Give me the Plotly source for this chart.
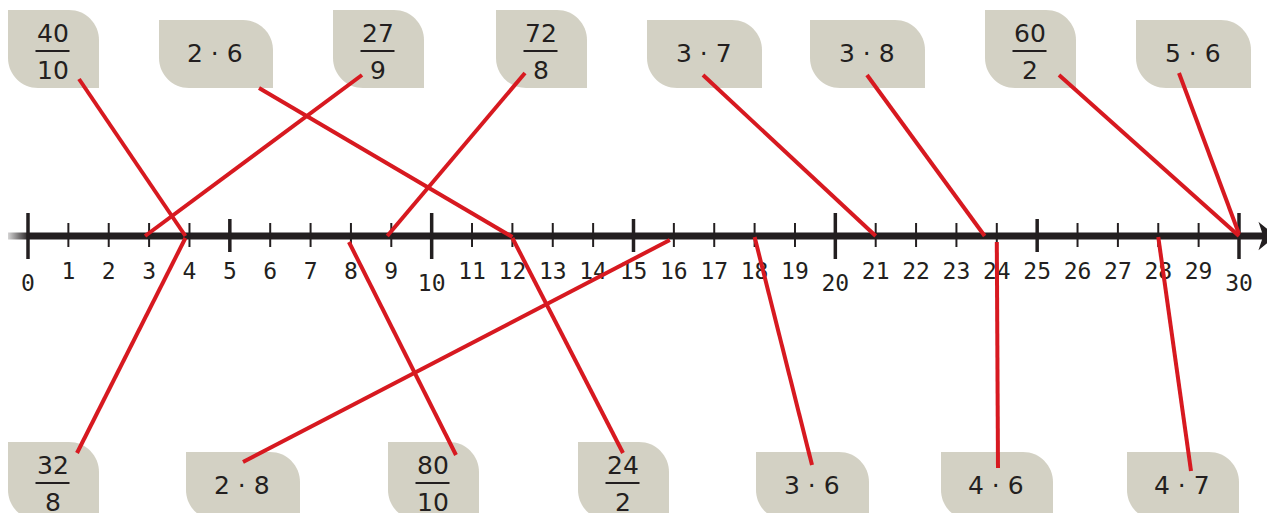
import plotly.graph_objects as go

# number line values
axis_values = list(range(0, 31))

# expressions in the boxes and where each red line meets the number line
top_labels = ["40/10", "2 · 6", "27/9", "72/8", "3 · 7", "3 · 8", "60/2", "5 · 6"]
top_hits = [3.9, 12, 2.9, 8.9, 21, 23.7, 30, 30]

bottom_labels = ["32/8", "2 · 8", "80/10", "24/2", "3 · 6", "4 · 6", "4 · 7"]
bottom_hits = [3.9, 15.9, 7.95, 12, 18, 24, 28]

# layout (pixels): box left / width, line start inside the box, line end y
top_box_left = [8, 159, 333, 496, 647, 810, 985, 1136]
top_box_width = [91, 114, 91, 91, 115, 115, 91, 115]
top_line_start = [(79, 79), (259, 88), (362, 75), (525, 73), (703, 75), (867, 75), (1059, 75), (1179, 73)]
top_line_end_y = [236, 237, 236, 236, 236, 236, 236, 234]

bottom_box_left = [8, 186, 388, 578, 756, 941, 1127]
bottom_box_width = [91, 114, 91, 91, 113, 112, 112]
bottom_line_start = [(77, 453), (243, 462), (456, 455), (623, 453), (812, 465), (998, 468), (1191, 471)]
bottom_line_end_y = [238, 240, 242, 238, 237, 242, 237]

W, H = 1275, 513
PAGE = 8  # body margin of the html page
X0, UNIT = 28, 1211 / 30
LINE_Y = 236
DARK = "#231f20"
RED = "#d71920"
BOX = "#d3d1c4"


def px(p):
    return (p - X0) / UNIT


def leaf_path(left, top, w, h, r=30):
    k = 0.5523 * r
    L, R, T, B = left, left + w, top, top + h
    pts = [
        f"M {px(L)},{T}",
        f"L {px(R - r)},{T}",
        f"C {px(R - r + k)},{T} {px(R)},{T + r - k} {px(R)},{T + r}",
        f"L {px(R)},{B}",
        f"L {px(L + r)},{B}",
        f"C {px(L + r - k)},{B} {px(L)},{B - r + k} {px(L)},{B - r}",
        "Z",
    ]
    return " ".join(pts)


fig = go.Figure()
shapes = []
annotations = []
font_box = dict(family="DejaVu Sans", size=25, color=DARK)


def add_box(label, left, top_frac, top_prod, w):
    cx = left + w / 2 - 1
    if "/" in label:
        num, den = label.split("/")
        top = top_frac
        shapes.append(dict(type="path", path=leaf_path(left, top, w, 78), fillcolor=BOX,
                           line=dict(width=0), layer="below"))
        annotations.append(dict(x=px(cx), y=top + 23, text=num, showarrow=False, font=font_box,
                                xanchor="center", yanchor="middle"))
        annotations.append(dict(x=px(cx), y=top + 60, text=den, showarrow=False, font=font_box,
                                xanchor="center", yanchor="middle"))
        shapes.append(dict(type="line", x0=px(cx - 17), x1=px(cx + 17), y0=top + 41, y1=top + 41,
                           line=dict(color=DARK, width=2), layer="below"))
    else:
        top = top_prod
        shapes.append(dict(type="path", path=leaf_path(left, top, w, 68), fillcolor=BOX,
                           line=dict(width=0), layer="below"))
        annotations.append(dict(x=px(cx), y=top + 33, text=label, showarrow=False, font=font_box,
                                xanchor="center", yanchor="middle"))


for lab, left, w in zip(top_labels, top_box_left, top_box_width):
    add_box(lab, left, 10, 20, w)
for lab, left, w in zip(bottom_labels, bottom_box_left, bottom_box_width):
    add_box(lab, left, 442, 452, w)

# left fade of the number line
fig.add_trace(go.Scatter(
    x=[px(0), px(29), px(29), px(0), px(0)],
    y=[LINE_Y - 3.5, LINE_Y - 3.5, LINE_Y + 3.5, LINE_Y + 3.5, LINE_Y - 3.5],
    mode="none", fill="toself",
    fillgradient=dict(type="horizontal", colorscale=[[0, "rgba(255,255,255,0)"], [0.15, "#f4f4f4"], [1, DARK]]),
    hoverinfo="skip", showlegend=False,
))

# shaft
fig.add_trace(go.Scatter(x=[px(28), px(1264)], y=[LINE_Y, LINE_Y], mode="lines",
                         line=dict(color=DARK, width=7), hoverinfo="skip", showlegend=False))

# arrow head
shapes.append(dict(type="path",
                   path=f"M {px(1260)},{224} L {px(1275)},{LINE_Y} L {px(1260)},{248} "
                        f"L {px(1264)},{LINE_Y} Z",
                   fillcolor=DARK, line=dict(color=DARK, width=1.5)))

# ticks
for widths, vals, half_top, half_bot in [
    (2, [v for v in axis_values if v % 5], 13, 11),
    (3.5, [v for v in axis_values if v % 5 == 0 and v % 10], 17, 16),
    (3.5, [v for v in axis_values if v % 10 == 0], 23, 23),
]:
    tx, ty = [], []
    for v in vals:
        tx += [v, v, None]
        ty += [LINE_Y - half_top, LINE_Y + half_bot, None]
    fig.add_trace(go.Scatter(x=tx, y=ty, mode="lines", line=dict(color=DARK, width=widths),
                             hoverinfo="skip", showlegend=False))

# tick labels
fig.add_trace(go.Scatter(
    x=axis_values,
    y=[LINE_Y + (49 if v % 10 == 0 else 37) for v in axis_values],
    text=[str(v) for v in axis_values],
    mode="text",
    textfont=dict(family="DejaVu Sans Mono", size=23, color=DARK),
    hoverinfo="skip", showlegend=False,
))

# red connecting lines
for (sx, sy), hit, ey in list(zip(top_line_start, top_hits, top_line_end_y)) + \
        list(zip(bottom_line_start, bottom_hits, bottom_line_end_y)):
    fig.add_trace(go.Scatter(x=[px(sx), hit], y=[sy, ey], mode="lines",
                             line=dict(color=RED, width=4), hoverinfo="skip", showlegend=False))

# the page puts the figure 8px in from the top-left corner, so the figure is
# sized and ranged to cover page pixels 8..1275 / 8..513
fig.update_layout(
    width=W - PAGE, height=H - PAGE,
    margin=dict(l=0, r=0, t=0, b=0),
    paper_bgcolor="white",
    plot_bgcolor="rgba(0,0,0,0)",
    xaxis=dict(range=[px(PAGE), px(W)], visible=False, fixedrange=True),
    yaxis=dict(range=[H, PAGE], visible=False, fixedrange=True),
    shapes=shapes,
    annotations=annotations,
    showlegend=False,
)

fig.write_html("out.html")
